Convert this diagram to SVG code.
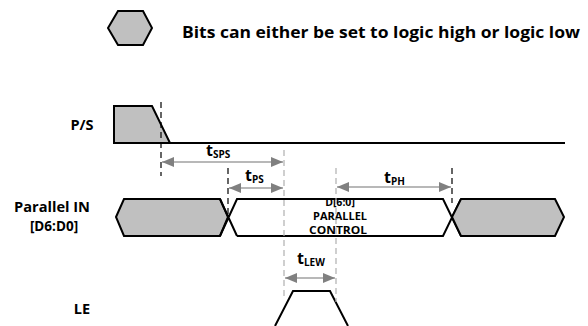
<svg xmlns="http://www.w3.org/2000/svg" width="588" height="326" viewBox="0 0 588 326">
<defs>
<marker id="ah" viewBox="0 0 12 10" refX="12" refY="5" markerWidth="12" markerHeight="10" markerUnits="userSpaceOnUse" orient="auto-start-reverse">
<path d="M0,0 L12,5 L0,10 Z" fill="#808080"/>
</marker>
</defs>
<style>
.sig{fill:#c0c0c0;stroke:#000;stroke-width:2;stroke-linejoin:miter}
.wsig{fill:none;stroke:#000;stroke-width:2}
.lbl{font-family:"Open Sans","Liberation Sans",sans-serif;font-weight:bold;fill:#000}
.dk{stroke:#000;stroke-width:1.2;stroke-dasharray:6,4;fill:none}
.gd{stroke:#b0b0b0;stroke-width:1.2;stroke-dasharray:6,4;fill:none}
.arr{stroke:#a0a0a0;stroke-width:1.5;fill:none;marker-start:url(#ah);marker-end:url(#ah)}
</style>
<rect width="588" height="326" fill="#fff"/>
<g id="legend">
<path class="sig" d="M108,28 L118,11 L143,11 L152,28 L143,45 L118,45 Z"/>
<text class="lbl" x="182" y="38" font-size="15.5" textLength="398" lengthAdjust="spacingAndGlyphs">Bits can either be set to logic high or logic low</text>
</g>
<g id="ps">
<text class="lbl" x="82" y="130" font-size="14.5" text-anchor="middle">P/S</text>
<path class="sig" d="M114,143 L114,106 L152,106 L170,143 Z"/>
<line x1="114" y1="143" x2="565" y2="143" stroke="#000" stroke-width="2"/>
</g>
<g id="parallel">
<text class="lbl" x="52" y="212" font-size="13.5" text-anchor="middle" textLength="76" lengthAdjust="spacingAndGlyphs">Parallel IN</text>
<text class="lbl" x="54" y="231" font-size="13.5" text-anchor="middle">[D6:D0]</text>
<path class="sig" d="M116,217 L124,199 L220,199 L228,217 L220,236 L124,236 Z"/>
<path class="wsig" d="M220,199 L237,236 M220,236 L237,199 L443,199 L461,236 M237,236 L443,236 L461,199"/>
<path class="sig" d="M452,217 L461,199 L555,199 L564,217 L555,236 L461,236 Z"/>
<text class="lbl" x="340" y="206" font-size="10.5" text-anchor="middle">D[6:0]</text>
<text class="lbl" x="340" y="220" font-size="10.5" text-anchor="middle" textLength="54" lengthAdjust="spacingAndGlyphs">PARALLEL</text>
<text class="lbl" x="338" y="234" font-size="10.5" text-anchor="middle" textLength="58" lengthAdjust="spacingAndGlyphs">CONTROL</text>
</g>
<g id="le">
<text class="lbl" x="82" y="314" font-size="14.5" text-anchor="middle">LE</text>
<path class="wsig" d="M275,326 L293,291 L330,291 L348,326"/>
</g>
<g id="connectors">
<line class="dk" x1="161" y1="102" x2="161" y2="176"/>
<line class="dk" x1="228" y1="168" x2="228" y2="216"/>
<line class="dk" x1="452" y1="168" x2="452" y2="203"/>
<line class="gd" x1="284" y1="150" x2="284" y2="298"/>
<line class="gd" x1="336" y1="168" x2="336" y2="302"/>
<line class="arr" x1="162" y1="162" x2="283" y2="162"/>
<line class="arr" x1="229" y1="188" x2="283" y2="188"/>
<line class="arr" x1="337" y1="187" x2="451" y2="187"/>
<line class="arr" x1="285" y1="278" x2="335" y2="278"/>
<text class="lbl" x="206" y="156" font-size="16">t<tspan font-size="10" dy="2">SPS</tspan></text>
<text class="lbl" x="245" y="181" font-size="16">t<tspan font-size="10" dy="2">PS</tspan></text>
<text class="lbl" x="384" y="183" font-size="16">t<tspan font-size="10" dy="2">PH</tspan></text>
<text class="lbl" x="297" y="264" font-size="16">t<tspan font-size="10" dy="2">LEW</tspan></text>
</g>
</svg>
